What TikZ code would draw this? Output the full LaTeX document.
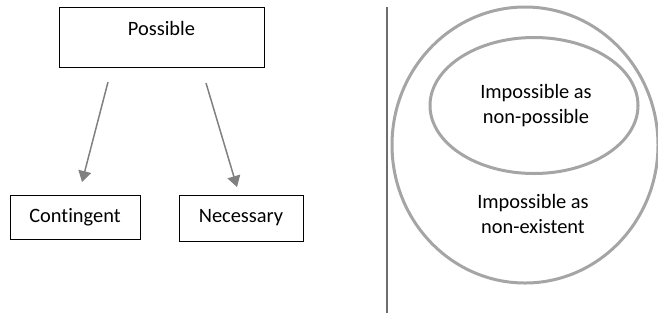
\documentclass[tikz,border=0pt]{standalone}
\usepackage{fontspec}
\setmainfont{Carlito}[Ligatures=NoCommon]
\usepackage{tikz}
\usetikzlibrary{arrows.meta, positioning}

\definecolor{arrowgray}{RGB}{128,128,128}
\definecolor{ringgray}{RGB}{165,165,165}
\definecolor{rulegray}{RGB}{110,110,110}

\tikzset{
    box/.style={draw=black, line width=0.5pt, inner sep=0pt, font=\fontsize{10.2}{12.5}\selectfont},
    label text/.style={align=center, font=\fontsize{10.2}{12.5}\selectfont},
    arrow/.style={draw=arrowgray, line width=0.75pt, -{Triangle[length=5.5pt, width=6.5pt]}},
    ring/.style={draw=ringgray, line width=1.5pt}
}

\begin{document}
\begin{tikzpicture}[x=0.5pt, y=-0.5pt]
    \useasboundingbox (0,0) rectangle (658,323);

    % left: boxes
    \node[box, minimum width=102.5pt, minimum height=30pt, text height=14pt, text depth=16pt] (possible) at (161.5,37) {Possible};
    \node[box, minimum width=65pt, minimum height=22pt] (contingent) at (75,217) {Contingent};
    \node[box, minimum width=62pt, minimum height=23pt] (necessary) at (241,218) {Necessary};

    % arrows
    \coordinate (from1) at (108,82);
    \coordinate (to1) at (82,182);
    \coordinate (from2) at (206,83);
    \coordinate (to2) at (237,187);
    \draw[arrow] (from1) -- (to1);
    \draw[arrow] (from2) -- (to2);

    % divider
    \coordinate (ruletop) at (387,7);
    \coordinate (rulebot) at (387,313);
    \draw[rulegray, line width=1pt] (ruletop) -- (rulebot);

    % right: circles
    \draw[ring] (525,145) ellipse [x radius=133, y radius=138];
    \draw[ring] (534,105.5) ellipse [x radius=104, y radius=68];
    \node[label text] (nonpossible) at (536,106) {Impossible as\\non-possible};
    \node[label text] (nonexistent) at (533,214) {Impossible as\\non-existent};
\end{tikzpicture}
\end{document}
